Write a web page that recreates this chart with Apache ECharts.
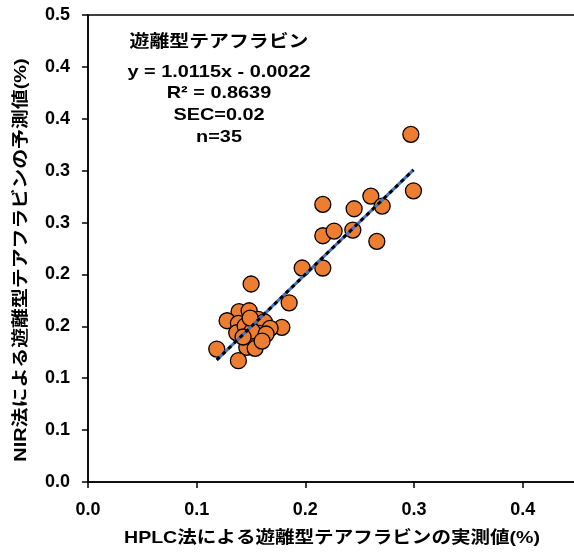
<!DOCTYPE html>
<html><head><meta charset="utf-8">
<script src="https://cdn.jsdelivr.net/npm/echarts@6/dist/echarts.min.js"></script>
<style>html,body{margin:0;padding:0;background:#fff}#c{width:574px;height:557px}</style>
</head><body><div id="c"></div>
<script>
// HPLC measured values (x) and NIR predicted values (y)
var hplcValues = [0.2971,0.2995,0.2603,0.2707,0.2161,0.2449,0.2161,0.2265,0.2437,0.2658,0.1971,0.2161,0.1851,0.1501,
  0.1390,0.1483,0.1280,0.1568,0.1384,0.1623,0.1784,0.1676,0.1369,0.1575,0.1538,0.1185,0.1461,0.1538,0.1384,
  0.1446,0.1510,0.1639,0.1427,0.1602,0.1492];
var nirValues = [0.3350,0.2806,0.2755,0.2659,0.2675,0.2633,0.2373,0.2418,0.2428,0.2319,0.2062,0.2062,0.1727,0.1908,
  0.1641,0.1650,0.1554,0.1567,0.1529,0.1544,0.1490,0.1481,0.1438,0.1433,0.1378,0.1281,0.1298,0.1288,0.1169,
  0.1503,0.1455,0.1426,0.1397,0.1358,0.1580];
var trendSlope = 1.0115, trendIntercept = -0.0022;
var statLines = ['遊離型テアフラビン', 'y = 1.0115x - 0.0022', 'R² = 0.8639', 'SEC=0.02', 'n=35'];
var xAxisTitle = 'HPLC法による遊離型テアフラビンの実測値(%)';
var yAxisTitle = 'NIR法による遊離型テアフラビンの予測値(%)';

var points = hplcValues.map(function(x, i){ return [x, nirValues[i]]; });
var xMin = Math.min.apply(null, hplcValues), xMax = Math.max.apply(null, hplcValues);
var trend = [[xMin, trendSlope*xMin + trendIntercept], [xMax, trendSlope*xMax + trendIntercept]];

var FF = "'Liberation Sans', Arial, 'Noto Sans CJK JP', sans-serif";
var lbl = {color:'#000', fontSize:18, fontWeight:'bold', fontFamily:FF};
var chart = echarts.init(document.getElementById('c'));
var statY = [42, 72, 93, 115, 137];
var graphics = statLines.map(function(t, i){
  return {type:'text', x:219, y:statY[i], scaleX:1.17, scaleY:1,
    style:{text:t, x:0, y:0, textAlign:'center', textVerticalAlign:'middle',
    fill:'#000', fontSize:17, fontWeight:'bold', fontFamily:FF}};
});
graphics.push({type:'text', x:332, y:538, scaleX:1.15, scaleY:1,
  style:{text:xAxisTitle, x:0, y:0, textAlign:'center', textVerticalAlign:'middle',
  fill:'#000', fontSize:17, fontWeight:'bold', fontFamily:FF}});
graphics.push({type:'text', x:21, y:260, rotation:Math.PI/2, scaleX:1.17, scaleY:1,
  style:{text:yAxisTitle, x:0, y:0, textAlign:'center', textVerticalAlign:'middle',
  fill:'#000', fontSize:17, fontWeight:'bold', fontFamily:FF}});

chart.setOption({
  animation:false,
  backgroundColor:'#fff',
  grid:{left:88, top:15, height:467, width:489, outerBoundsMode:'none', containLabel:false,
    show:true, borderColor:'#000', borderWidth:1.5, backgroundColor:'transparent'},
  xAxis:{type:'value', min:0, max:0.45, interval:0.1,
    axisLine:{show:true, lineStyle:{color:'#000', width:1.5}},
    axisTick:{show:true, length:6, lineStyle:{color:'#000', width:1.5}},
    splitLine:{show:false},
    axisLabel:Object.assign({margin:19, formatter:function(v){ return v>0.42 ? '' : v.toFixed(1); }}, lbl)},
  yAxis:{type:'value', min:0, max:0.45, interval:0.05,
    axisLine:{show:true, lineStyle:{color:'#000', width:1.5}},
    axisTick:{show:true, length:6, lineStyle:{color:'#000', width:1.5}},
    splitLine:{show:false},
    axisLabel:Object.assign({margin:18, formatter:function(v){ return (Math.round(v*10+1e-9)/10).toFixed(1); }}, lbl)},
  graphic: graphics,
  series:[
    {type:'scatter', data:points, symbolSize:16, z:2,
      itemStyle:{color:'#ED7D31', borderColor:'#000', borderWidth:1.3, opacity:1}},
    {type:'line', data:trend, symbol:'none', z:3, lineStyle:{color:'#4472C4', width:3}},
    {type:'line', data:trend, symbol:'none', z:4, lineStyle:{color:'#000', width:3, type:[4,4]}}
  ]
});
</script></body></html>
